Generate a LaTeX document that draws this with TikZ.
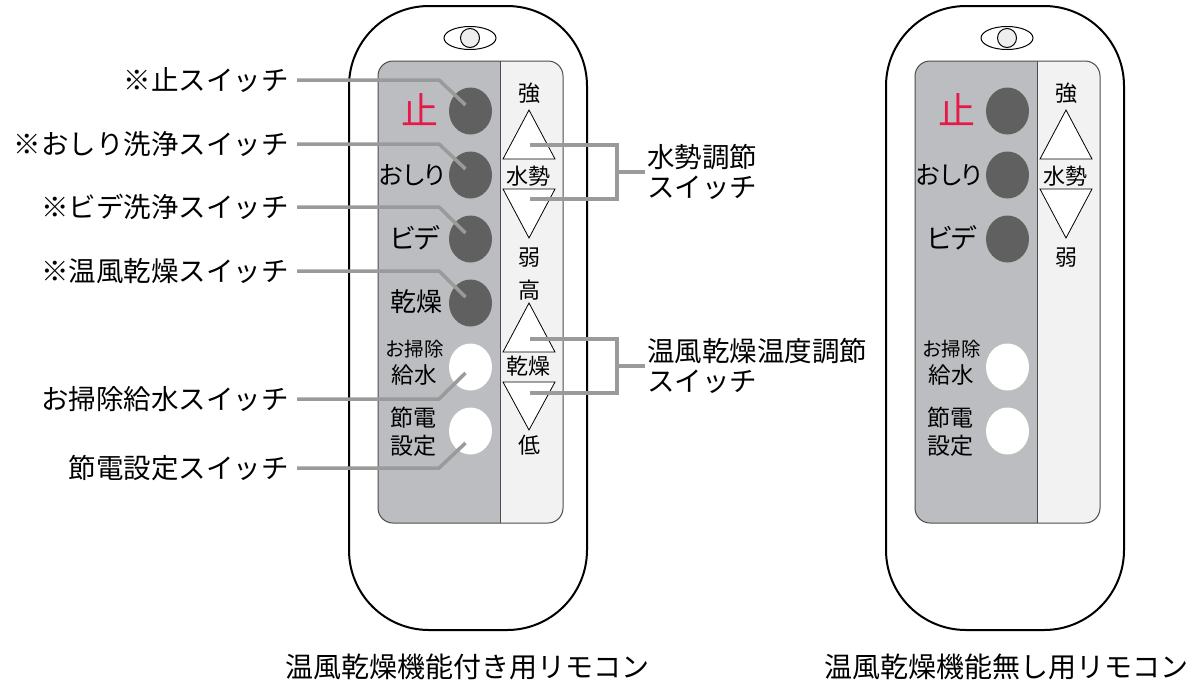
\documentclass[tikz,border=0pt]{standalone}
\usepackage{fontspec}
\setmainfont{Noto Sans CJK JP}
\newfontfamily\pfont[RawFeature=+palt]{Noto Sans CJK JP}
\usetikzlibrary{positioning,calc,shapes.geometric}

\definecolor{panelgray}{RGB}{188,189,192}
\definecolor{sidegray}{RGB}{242,242,242}
\definecolor{btndark}{RGB}{96,96,96}
\definecolor{leadgray}{RGB}{154,154,154}
\definecolor{stopred}{RGB}{230,25,75}
\definecolor{eyegray}{RGB}{238,238,238}

\begin{document}
\begin{tikzpicture}[x=1pt,y=-1pt,
  body/.style={draw,line width=2pt,rounded corners=80pt,fill=white},
  panelline/.style={draw=black!70,line width=1pt},
  btn/.style={ellipse,minimum width=43pt,minimum height=47pt,inner sep=0pt},
  dark/.style={btn,fill=btndark},
  light/.style={btn,fill=white},
  tri/.style={draw,line width=0.8pt,fill=white},
  lead/.style={draw=leadgray,line width=3.5pt},
  callout/.style={font=\fontsize{27.5}{30}\selectfont,inner xsep=8pt,inner ysep=0pt},
  key/.style={font=\pfont\fontsize{24}{26}\selectfont,inner sep=0pt,align=center},
  col/.style={font=\fontsize{22}{24}\selectfont,inner sep=0pt},
  caption/.style={font=\fontsize{28}{30}\selectfont,inner sep=0pt}]
  \useasboundingbox (0,0) rectangle (1196,681);

  % both remotes
  \foreach \s/\r in {0/L,537/R}{
    \begin{scope}[xshift=\s pt]
      \draw[body] (349,6) rectangle (587,630);
      \draw[line width=1pt] (470,38) ellipse (26 and 11.5);
      \draw[line width=1pt,fill=eyegray] (470,38) circle (9.5);
      \begin{scope}
        \clip[rounded corners=15pt] (378,61) rectangle (563,523);
        \fill[sidegray] (378,61) rectangle (563,523);
        \fill[panelgray] (378,61) rectangle (500,523);
      \end{scope}
      \draw[panelline,rounded corners=15pt] (378,61) rectangle (563,523);
      \draw[panelline] (500,61) -- (500,523);

      \node[dark] (stop\r) at (470.5,111) {};
      \node[dark] (wash\r) at (470.5,175) {};
      \node[dark] (bidet\r) at (470.5,239) {};
      \node[light] (clean\r) at (470.5,367) {};
      \node[light] (eco\r) at (470.5,431) {};

      \node[key,text=stopred,font=\pfont\fontsize{37}{39}\selectfont] (kStop\r) at (420,110) {止};
      \node[key,font=\pfont\fontsize{25}{27}\selectfont] (kWash\r) at (412,175) {おしり};
      \node[key,font=\pfont\fontsize{27}{29}\selectfont] (kBidet\r) at (415,238) {ビデ};
      \node[key,font=\pfont\fontsize{19.5}{21}\selectfont] (kClean\r) at (415,349) {お掃除};
      \node[key,font=\pfont\fontsize{22.5}{24}\selectfont] (kWater\r) at (414,375) {給水};
      \node[key,font=\pfont\fontsize{23}{28}\selectfont] (kEco\r) at (413,432) {節電\\設定};

      \draw[tri] (503,159) -- (529,110) -- (555,159) -- cycle;
      \draw[tri] (503,189) -- (555,189) -- (529,238) -- cycle;
      \node[col] (strong\r) at (529,93) {強};
      \node[col] (flow\r) at (528,176) {水勢};
      \node[col] (weak\r) at (529,258) {弱};
    \end{scope}
  }

  % dryer parts of the left remote
  \node[dark] (dryL) at (470.5,303) {};
  \node[key,font=\pfont\fontsize{26}{28}\selectfont] (kDryL) at (416,302) {乾燥};
  \draw[tri] (503,352) -- (529,303) -- (555,352) -- cycle;
  \draw[tri] (503,382) -- (555,382) -- (529,430) -- cycle;
  \node[col] (high) at (529,290) {高};
  \node[col] (dry) at (528,366) {乾燥};
  \node[col] (low) at (529,445) {低};

  % callouts on the left
  \node[callout,anchor=east] (cStop) at (297,80) {※止スイッチ};
  \node[callout,anchor=east] (cWash) at (297,144) {※おしり洗浄スイッチ};
  \node[callout,anchor=east] (cBidet) at (297,207) {※ビデ洗浄スイッチ};
  \node[callout,anchor=east] (cDry) at (297,271) {※温風乾燥スイッチ};
  \node[callout,anchor=east] (cClean) at (297,399) {お掃除給水スイッチ};
  \node[callout,anchor=east] (cEco) at (297,468) {節電設定スイッチ};

  \coordinate (bend) at (439,0);
  \coordinate (tStop) at ($(stopL)+(-5,-6)$);
  \coordinate (tWash) at ($(washL)+(-5,-6)$);
  \coordinate (tBidet) at ($(bidetL)+(-5,-6)$);
  \coordinate (tDry) at ($(dryL)+(-5,-6)$);
  \coordinate (tClean) at ($(cleanL)+(-5,6)$);
  \coordinate (tEco) at ($(ecoL)+(-5,12)$);
  \foreach \n in {Stop,Wash,Bidet,Dry,Clean,Eco}
    \draw[lead] (c\n.east) -- (c\n.east -| bend) -- (t\n);

  % callouts on the right
  \node[callout,anchor=west,align=left,inner xsep=2pt] (cFlow) at (645,172) {水勢調節\\スイッチ};
  \node[callout,anchor=west,align=left,inner xsep=2pt] (cTemp) at (645,366) {温風乾燥温度調節\\スイッチ};
  \coordinate (upFlow) at (530,145);
  \coordinate (dnFlow) at (530,199);
  \coordinate (upTemp) at (530,339);
  \coordinate (dnTemp) at (530,393);
  \coordinate (brk) at (617,0);
  \draw[lead] (upFlow) -- (upFlow -| brk) -- (dnFlow -| brk) -- (dnFlow);
  \draw[lead] (cFlow.west -| brk) -- (cFlow.west);
  \draw[lead] (upTemp) -- (upTemp -| brk) -- (dnTemp -| brk) -- (dnTemp);
  \draw[lead] (cTemp.west -| brk) -- (cTemp.west);

  \node[caption] (capL) at (467,667) {温風乾燥機能付き用リモコン};
  \node[caption] (capR) at (1006,667) {温風乾燥機能無し用リモコン};
\end{tikzpicture}
\end{document}
